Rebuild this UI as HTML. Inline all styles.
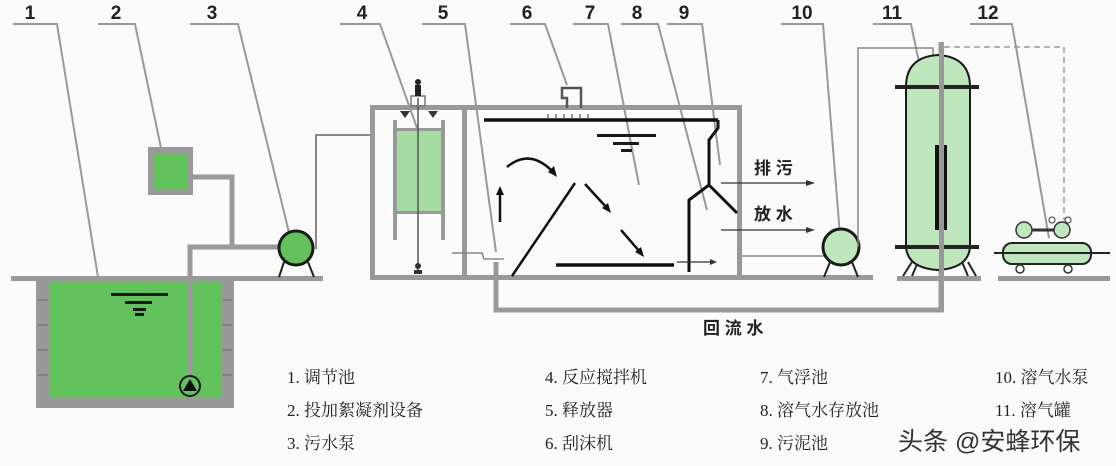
<!DOCTYPE html>
<html><head><meta charset="utf-8"><style>
html,body{margin:0;padding:0;background:#fbfbfb;}
svg{display:block}
.n{font:bold 19px "Liberation Sans",sans-serif;fill:#222}
.lg{font:17px "Liberation Serif","Noto Serif CJK SC",serif;fill:#222}
.cn{font:bold 17px "Liberation Sans","Noto Sans CJK SC",sans-serif;fill:#222}
</style></head><body>
<svg width="1116" height="466" viewBox="0 0 1116 466" xmlns="http://www.w3.org/2000/svg">
<rect width="1116" height="466" fill="#fbfbfb"/>
<!-- numbers -->
<g class="n" text-anchor="middle">
<text x="30" y="19">1</text><text x="116" y="19">2</text><text x="212" y="19">3</text>
<text x="362" y="19">4</text><text x="443" y="19">5</text><text x="527" y="19">6</text>
<text x="590" y="19">7</text><text x="637" y="19">8</text><text x="684" y="19">9</text>
<text x="802" y="19">10</text><text x="892" y="19">11</text><text x="988" y="19">12</text>
</g>
<!-- leaders -->
<g stroke="#999" stroke-width="2" fill="none">
<polyline points="13,24 57,24 103,308"/>
<polyline points="98,24 135,24 165,167"/>
<polyline points="190,24 238,24 294,253"/>
<polyline points="340,24 380,24 417,128"/>
<polyline points="422,24 465,24 496,252"/>
<polyline points="510,24 545,24 567,85"/>
<polyline points="573,24 608,24 639,185"/>
<polyline points="621,24 658,24 707,210"/>
<polyline points="667,24 702,24 720,165"/>
<polyline points="781,24 823,24 841,248"/>
<polyline points="873,24 911,24 931,120"/>
<polyline points="970,24 1012,24 1049,238"/>
</g>
<!-- tank 1 -->
<rect x="36" y="278" width="198" height="130" fill="#999"/>
<rect x="50" y="280" width="171" height="117" fill="#63c25e"/>
<g stroke="#666" stroke-width="1">
<line x1="38" y1="300" x2="48" y2="300"/><line x1="38" y1="325" x2="48" y2="325"/><line x1="38" y1="350" x2="48" y2="350"/><line x1="38" y1="375" x2="48" y2="375"/>
<line x1="223" y1="300" x2="232" y2="300"/><line x1="223" y1="325" x2="232" y2="325"/><line x1="223" y1="350" x2="232" y2="350"/><line x1="223" y1="375" x2="232" y2="375"/>
</g>
<g fill="#1a1a1a"><rect x="111" y="293" width="57" height="3"/><rect x="125" y="301" width="27" height="3"/><rect x="133" y="308" width="13" height="3"/><rect x="135" y="313" width="9" height="3"/></g>
<!-- ground left -->
<rect x="11" y="276" width="312" height="5" fill="#999"/>
<!-- box 2 and pipes -->
<rect x="148" y="147" width="45" height="48" fill="#999"/>
<rect x="154" y="153" width="33" height="36" fill="#63c25e"/>
<polyline points="193,177 232,177 232,247" stroke="#999" stroke-width="5" fill="none"/>
<polyline points="278,247 190,247 190,376" stroke="#999" stroke-width="5" fill="none"/>
<circle cx="190" cy="386" r="10" fill="#63c25e" stroke="#1a1a1a" stroke-width="2"/>
<polygon points="190,379 183,391 197,391" fill="#111"/>
<!-- pump 3 -->
<line x1="284" y1="262" x2="279" y2="277" stroke="#222" stroke-width="2"/><line x1="308" y1="262" x2="314" y2="277" stroke="#222" stroke-width="2"/>
<circle cx="296" cy="248" r="17" fill="#63c25e" stroke="#1a1a1a" stroke-width="3"/>
<polyline points="314,248 316,248 316,135 370,135" stroke="#888" stroke-width="2" fill="none"/>
<!-- main box -->
<g fill="#999">
<rect x="370" y="105" width="372" height="5"/>
<rect x="370" y="105" width="5" height="175"/>
<rect x="737" y="105" width="5" height="175"/>
<rect x="462" y="105" width="5" height="175"/>
<rect x="370" y="275" width="503" height="5"/>
</g>
<!-- agitator -->
<rect x="397" y="130" width="44" height="82" fill="#a6dca2"/>
<rect x="393" y="120" width="4" height="120" fill="#999"/><rect x="441" y="120" width="4" height="120" fill="#999"/>
<rect x="397" y="128" width="44" height="3" fill="#999"/><rect x="397" y="211" width="44" height="3" fill="#999"/>
<line x1="418" y1="98" x2="418" y2="272" stroke="#555" stroke-width="1.5"/>
<rect x="411" y="96" width="14" height="10" fill="none" stroke="#777" stroke-width="1.5"/>
<rect x="415" y="85" width="6" height="11" fill="#222"/><circle cx="418" cy="82" r="3" fill="#222"/>
<polygon points="400,111 410,111 405,118" fill="#333"/><polygon points="428,111 438,111 433,118" fill="#333"/>
<circle cx="418" cy="266" r="3" fill="#333"/><rect x="414" y="270" width="8" height="4" fill="#333"/>
<!-- release 5 -->
<polyline points="452,253 482,253 484,259 504,259" stroke="#888" stroke-width="1.5" fill="none"/>
<polyline points="496,262 496,310 941,310 941,42" stroke="#999" stroke-width="5" fill="none"/>
<!-- flow arrows -->
<g stroke="#111" stroke-width="2.5" fill="none">
<line x1="500" y1="222" x2="500" y2="192"/>
<path d="M507,167 Q530,148 553,172"/>
<line x1="512" y1="276" x2="575" y2="183"/>
<line x1="585" y1="184" x2="607" y2="208"/>
<line x1="621" y1="230" x2="640" y2="252"/>
<line x1="556" y1="265" x2="674" y2="265" stroke-width="3.5"/>
<line x1="484" y1="120" x2="718" y2="120" stroke-width="3.5"/>
<polyline points="718,120 718,128 709,140 709,185 689,200 689,272" stroke-width="3"/>
<line x1="709" y1="185" x2="737" y2="213" stroke-width="3"/>
</g>
<g fill="#111">
<polygon points="500,186 496,195 504,195"/>
<polygon points="557,177 548,172 554,166"/>
<polygon points="611,213 602,208 608,203"/>
<polygon points="644,257 635,252 641,247"/>
</g>
<g stroke="#555" stroke-width="1.2"><line x1="548" y1="114" x2="548" y2="119"/><line x1="556" y1="114" x2="556" y2="119"/><line x1="564" y1="114" x2="564" y2="119"/><line x1="572" y1="114" x2="572" y2="119"/><line x1="580" y1="114" x2="580" y2="119"/><line x1="588" y1="114" x2="588" y2="119"/></g>
<!-- skimmer 6 -->
<polyline points="567,108 567,98 562,98 562,88 581,88 581,108" stroke="#555" stroke-width="2.5" fill="none"/>
<!-- water level 7 -->
<g fill="#1a1a1a"><rect x="597" y="134" width="59" height="3"/><rect x="613" y="142" width="26" height="3"/><rect x="621" y="149" width="11" height="3"/></g>
<!-- small arrow bottom -->
<line x1="677" y1="262" x2="712" y2="262" stroke="#333" stroke-width="1.2"/><polygon points="717,262 710,259 710,265" fill="#333"/>
<!-- out arrows -->
<g stroke="#333" stroke-width="1.2"><line x1="721" y1="183" x2="808" y2="183"/><line x1="721" y1="230" x2="808" y2="230"/></g>
<polygon points="815,183 806,180 806,186" fill="#333"/><polygon points="815,230 806,227 806,233" fill="#333"/>
<text class="cn" x="754" y="174">排 污</text>
<text class="cn" x="754" y="220">放 水</text>
<line x1="742" y1="256" x2="825" y2="256" stroke="#888" stroke-width="1.5"/>
<!-- pump 10 -->
<line x1="830" y1="262" x2="824" y2="277" stroke="#222" stroke-width="2"/><line x1="852" y1="262" x2="858" y2="277" stroke="#222" stroke-width="2"/>
<circle cx="841" cy="247" r="18" fill="#bfe6bd" stroke="#1a1a1a" stroke-width="3"/>
<polyline points="858,247 858,48 933,48 933,62" stroke="#888" stroke-width="1.5" fill="none"/>
<!-- tank 11 -->
<rect x="897" y="276" width="84" height="5" fill="#999"/>
<g stroke="#222" stroke-width="2"><line x1="912" y1="262" x2="903" y2="276"/><line x1="918" y1="262" x2="912" y2="276"/><line x1="962" y1="262" x2="968" y2="276"/><line x1="968" y1="262" x2="976" y2="276"/></g>
<path d="M906,87 Q906,57 938,55 Q970,57 970,87 L970,245 Q970,268 938,270 Q906,268 906,245 Z" fill="#bfe6bd" stroke="#1a1a1a" stroke-width="2"/>
<rect x="895" y="85" width="84" height="4" fill="#222"/><rect x="895" y="245" width="84" height="4" fill="#222"/>
<rect x="935" y="145" width="12" height="85" fill="#111"/>
<rect x="939" y="42" width="5" height="270" fill="#999"/>
<polyline points="944,47 1064,47 1064,220" stroke="#999" stroke-width="1.5" stroke-dasharray="6,4" fill="none"/>
<!-- compressor 12 -->
<rect x="998" y="276" width="112" height="5" fill="#999"/>
<rect x="1003" y="243" width="88" height="21" rx="9" fill="#bfe6bd" stroke="#222" stroke-width="2"/>
<line x1="994" y1="253" x2="1110" y2="253" stroke="#222" stroke-width="2"/>
<circle cx="1020" cy="269" r="4" fill="#fff" stroke="#333" stroke-width="1.5"/><circle cx="1068" cy="269" r="4" fill="#fff" stroke="#333" stroke-width="1.5"/>
<circle cx="1024" cy="230" r="8" fill="#bfe6bd" stroke="#333" stroke-width="1.5"/><circle cx="1062" cy="230" r="8" fill="#bfe6bd" stroke="#333" stroke-width="1.5"/>
<line x1="1032" y1="230" x2="1054" y2="230" stroke="#333" stroke-width="3"/>
<circle cx="1052" cy="220" r="3" fill="none" stroke="#333"/><circle cx="1068" cy="220" r="3" fill="none" stroke="#333"/>
<text class="cn" x="703" y="334" font-weight="normal">回 流 水</text>
<!-- legend -->
<g class="lg">
<text x="287" y="383">1. 调节池</text><text x="287" y="416">2. 投加絮凝剂设备</text><text x="287" y="449">3. 污水泵</text>
<text x="545" y="383">4. 反应搅拌机</text><text x="545" y="416">5. 释放器</text><text x="545" y="449">6. 刮沫机</text>
<text x="760" y="383">7. 气浮池</text><text x="760" y="416">8. 溶气水存放池</text><text x="760" y="449">9. 污泥池</text>
<text x="995" y="383">10. 溶气水泵</text><text x="995" y="416">11. 溶气罐</text>
</g>
<text x="898" y="450" style="font:25px 'Liberation Sans','Noto Sans CJK SC',sans-serif;fill:#333">头条 @安蜂环保</text>
</svg>
</body></html>
